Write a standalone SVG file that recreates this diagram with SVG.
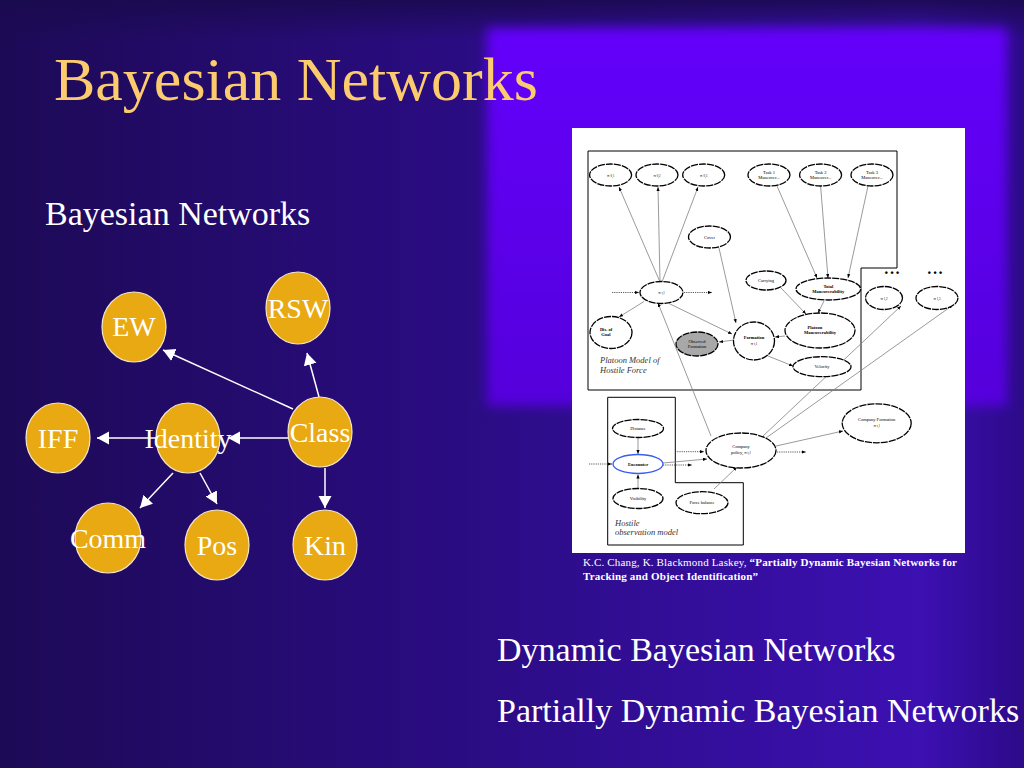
<svg xmlns="http://www.w3.org/2000/svg" width="1024" height="768" viewBox="0 0 1024 768">
<defs>
  <linearGradient id="bgH" x1="0" y1="0" x2="1" y2="0">
    <stop offset="0" stop-color="#1d0a56"/>
    <stop offset="0.45" stop-color="#2a0c82"/>
    <stop offset="0.9" stop-color="#3c10b2"/>
    <stop offset="1" stop-color="#2c0a88"/>
  </linearGradient>
  <linearGradient id="topShade" x1="0" y1="0" x2="0" y2="1">
    <stop offset="0" stop-color="#1a0a4e" stop-opacity="0.9"/>
    <stop offset="1" stop-color="#1a0a4e" stop-opacity="0"/>
  </linearGradient>
  <linearGradient id="bright" x1="0" y1="0" x2="0" y2="1">
    <stop offset="0" stop-color="#6300fb"/>
    <stop offset="1" stop-color="#5506dc"/>
  </linearGradient>
  <filter id="soft" x="-10%" y="-10%" width="120%" height="120%">
    <feGaussianBlur stdDeviation="6"/>
  </filter>
  <marker id="arrW" markerUnits="userSpaceOnUse" markerWidth="14" markerHeight="14" refX="12" refY="6.5" orient="auto">
    <path d="M0,0 L12,6.5 L0,13 Z" fill="#ffffff"/>
  </marker>
  <marker id="arrB" markerUnits="userSpaceOnUse" markerWidth="6" markerHeight="6" refX="4" refY="1.6" orient="auto">
    <path d="M0,0 L4,1.6 L0,3.2 Z" fill="#000000"/>
  </marker>
  <style>
    .title{font-family:"Liberation Serif","Times New Roman",serif;font-size:62px;fill:#fccb6e}
    .sub{font-family:"Liberation Serif","Times New Roman",serif;font-size:34px;fill:#ffffff}
    .nd{fill:#e8a912;stroke:#f4e6c8;stroke-width:1.2}
    .nl{font-family:"Liberation Serif","Times New Roman",serif;font-size:28px;fill:#ffffff;text-anchor:middle}
    .cw{stroke:#ffffff;stroke-width:1.5;fill:none;marker-end:url(#arrW)}
    .fe{fill:#ffffff;stroke:#000000;stroke-width:1.3;stroke-dasharray:7 1}
    .ft{font-family:"Liberation Serif","Times New Roman",serif;font-size:4.5px;fill:#000000;text-anchor:middle}
    .fb{stroke:#000000;stroke-width:1;fill:none}
    .fc{stroke:#808080;stroke-width:0.8;fill:none;marker-end:url(#arrB)}
    .fd{stroke:#333333;stroke-width:0.8;fill:none;stroke-dasharray:1.2 1;marker-end:url(#arrB)}
    .fi{font-family:"Liberation Serif","Times New Roman",serif;font-size:8.5px;font-style:italic;fill:#333333}
    .cap{font-family:"Liberation Serif","Times New Roman",serif;font-size:11px;fill:#ffffff}
  </style>
</defs>

<!-- background -->
<rect x="0" y="0" width="1024" height="768" fill="url(#bgH)"/>
<rect x="0" y="0" width="1024" height="40" fill="url(#topShade)"/>
<rect x="487" y="28" width="520" height="378" fill="url(#bright)" filter="url(#soft)"/>

<!-- texts -->
<text class="title" x="54" y="100">Bayesian Networks</text>
<text class="sub" x="45" y="225">Bayesian Networks</text>
<text class="sub" x="497" y="661">Dynamic Bayesian Networks</text>
<text class="sub" x="497" y="722">Partially Dynamic Bayesian Networks</text>

<!-- left graph connectors -->
<g id="connectors">
  <line class="cw" x1="293" y1="409" x2="163" y2="350"/>
  <line class="cw" x1="319" y1="397" x2="307" y2="353"/>
  <line class="cw" x1="288" y1="438" x2="228" y2="438"/>
  <line class="cw" x1="157" y1="438" x2="97" y2="438"/>
  <line class="cw" x1="173" y1="473" x2="140" y2="508"/>
  <line class="cw" x1="200" y1="473" x2="217" y2="504"/>
  <line class="cw" x1="325" y1="468" x2="325" y2="508"/>
</g>

<!-- left graph nodes -->
<g id="node-ew"><ellipse class="nd" cx="134" cy="327" rx="32" ry="35"/><text class="nl" x="134" y="336">EW</text></g>
<g id="node-rsw"><ellipse class="nd" cx="298" cy="308" rx="32" ry="36"/><text class="nl" x="298" y="318">RSW</text></g>
<g id="node-iff"><ellipse class="nd" cx="58" cy="438" rx="32" ry="35"/><text class="nl" x="58" y="448">IFF</text></g>
<g id="node-identity"><ellipse class="nd" cx="188" cy="438" rx="32" ry="35"/><text class="nl" x="188" y="448">Identity</text></g>
<g id="node-class"><ellipse class="nd" cx="320" cy="432" rx="32" ry="35"/><text class="nl" x="320" y="442">Class</text></g>
<g id="node-comm"><ellipse class="nd" cx="108" cy="538" rx="33" ry="35"/><text class="nl" x="108" y="548">Comm</text></g>
<g id="node-pos"><ellipse class="nd" cx="217" cy="545" rx="32" ry="35"/><text class="nl" x="217" y="555">Pos</text></g>
<g id="node-kin"><ellipse class="nd" cx="325" cy="545" rx="32" ry="35"/><text class="nl" x="325" y="555">Kin</text></g>

<!-- embedded figure -->
<g id="figure">
  <rect x="572" y="128" width="393" height="425" fill="#ffffff"/>
  <path class="fb" d="M588,151 H897 V268 H861 V390 H588 Z"/>
  <path class="fb" d="M607.7,397.3 H675.3 V482.7 H743.3 V545 H607.7 Z"/>
  <text class="fi" x="600" y="363">Platoon Model of</text>
  <text class="fi" x="600" y="373">Hostile Force</text>
  <text class="fi" x="615" y="526">Hostile</text>
  <text class="fi" x="615" y="535">observation model</text>
  <text x="892" y="276" font-family="Liberation Sans, Arial, sans-serif" font-size="9" font-weight="bold" text-anchor="middle" fill="#000">• • •</text>
  <text x="935" y="276" font-family="Liberation Sans, Arial, sans-serif" font-size="9" font-weight="bold" text-anchor="middle" fill="#000">• • •</text>

  <g id="fig-connectors">
    <line class="fc" x1="660" y1="282" x2="619" y2="187"/>
    <line class="fc" x1="660" y1="282" x2="658" y2="187"/>
    <line class="fc" x1="662" y1="282" x2="698" y2="187"/>
    <line class="fd" x1="612" y1="292.5" x2="639" y2="292.5"/>
    <line class="fd" x1="684" y1="292.5" x2="712" y2="292.5"/>
    <line class="fc" x1="644" y1="301.5" x2="619" y2="317"/>
    <line class="fc" x1="669" y1="303.5" x2="732" y2="334"/>
    <line class="fc" x1="719" y1="248" x2="736" y2="323"/>
    <line class="fc" x1="734" y1="340" x2="719" y2="342"/>
    <line class="fc" x1="785" y1="336" x2="775" y2="337"/>
    <line class="fc" x1="768" y1="356" x2="793" y2="366"/>
    <line class="fc" x1="781" y1="288" x2="806" y2="314"/>
    <line class="fc" x1="824" y1="301" x2="818" y2="313"/>
    <line class="fc" x1="777" y1="186" x2="817" y2="278"/>
    <line class="fc" x1="820.6" y1="186" x2="828" y2="278"/>
    <line class="fc" x1="868" y1="186" x2="848" y2="278"/>
    <line class="fc" x1="711" y1="436" x2="658" y2="303"/>
    <line class="fc" x1="762" y1="437" x2="901" y2="306"/>
    <line class="fc" x1="766" y1="438" x2="953" y2="305"/>
    <line class="fc" x1="776" y1="446" x2="843" y2="431"/>
    <line class="fd" x1="777" y1="452" x2="806" y2="452"/>
    <line class="fd" x1="675" y1="451.7" x2="704" y2="451.7"/>
    <line class="fc" x1="663" y1="463" x2="707" y2="459"/>
    <line class="fd" x1="663" y1="465" x2="692" y2="465"/>
    <line class="fd" x1="589" y1="464" x2="612" y2="464"/>
    <line class="fc" x1="638" y1="437.5" x2="638" y2="454"/>
    <line class="fc" x1="638" y1="488.5" x2="638" y2="474.5"/>
    <line class="fc" x1="714" y1="489" x2="737" y2="467"/>
  </g>

  <g id="fig-p01"><ellipse class="fe" cx="610.6" cy="175" rx="21" ry="11"/><text class="ft" x="610.6" y="176.5">π <tspan font-size="3">0,1</tspan></text></g>
  <g id="fig-p02"><ellipse class="fe" cx="657" cy="175" rx="21" ry="11"/><text class="ft" x="657" y="176.5">π <tspan font-size="3">0,2</tspan></text></g>
  <g id="fig-p03"><ellipse class="fe" cx="703.7" cy="175" rx="21" ry="11"/><text class="ft" x="703.7" y="176.5">π <tspan font-size="3">0,3</tspan></text></g>
  <g id="fig-task1"><ellipse class="fe" cx="769" cy="175" rx="21" ry="11"/><text class="ft" x="769" y="174">Task 1</text><text class="ft" x="769" y="178.5">Maneuver...</text></g>
  <g id="fig-task2"><ellipse class="fe" cx="820.6" cy="175" rx="21" ry="11"/><text class="ft" x="820.6" y="174">Task 2</text><text class="ft" x="820.6" y="178.5">Maneuver...</text></g>
  <g id="fig-task3"><ellipse class="fe" cx="872" cy="175" rx="21" ry="11"/><text class="ft" x="872" y="174">Task 3</text><text class="ft" x="872" y="178.5">Maneuver...</text></g>
  <g id="fig-cover"><ellipse class="fe" cx="709.5" cy="237" rx="21" ry="11"/><text class="ft" x="709.5" y="238.5">Cover</text></g>
  <g id="fig-carrying"><ellipse class="fe" cx="766" cy="280.5" rx="20" ry="9.5"/><text class="ft" x="766" y="282">Carrying</text></g>
  <g id="fig-totalman"><ellipse class="fe" cx="828.3" cy="289" rx="32.3" ry="11"/><text class="ft" x="828.3" y="288" font-weight="bold">Total</text><text class="ft" x="828.3" y="293" font-weight="bold">Maneuverability</text></g>
  <g id="fig-pt1"><ellipse class="fe" cx="661.5" cy="292.5" rx="21.5" ry="11"/><text class="ft" x="661.5" y="294">π <tspan font-size="3">t,1</tspan></text></g>
  <g id="fig-disgoal"><ellipse class="fe" cx="611" cy="332.5" rx="21" ry="16"/><text class="ft" x="606" y="331" text-anchor="start" font-weight="bold">Dis. of</text><text class="ft" x="606" y="336" text-anchor="start" font-weight="bold">Goal</text></g>
  <g id="fig-observed"><ellipse cx="697" cy="344" rx="21" ry="12" fill="#a8a8a8" stroke="#000" stroke-width="1.3" stroke-dasharray="7 1"/><text class="ft" x="697" y="343" font-size="4">Observed</text><text class="ft" x="697" y="347.5" font-size="4">Formation</text></g>
  <g id="fig-formation"><ellipse class="fe" cx="754" cy="341" rx="20.5" ry="19"/><text class="ft" x="754" y="339" font-weight="bold">Formation</text><text class="ft" x="754" y="345">π <tspan font-size="3">t,1</tspan></text></g>
  <g id="fig-platman"><ellipse class="fe" cx="820" cy="330.5" rx="35" ry="17.5"/><text class="ft" x="815" y="329" font-weight="bold">Platoon</text><text class="ft" x="820" y="334" font-weight="bold">Maneuverability</text></g>
  <g id="fig-velocity"><ellipse class="fe" cx="822" cy="366.7" rx="29" ry="10"/><text class="ft" x="822" y="368.2">Velocity</text></g>
  <g id="fig-pr1"><ellipse class="fe" cx="884" cy="298" rx="18.5" ry="11.5"/><text class="ft" x="884" y="299.5">π <tspan font-size="3">1,2</tspan></text></g>
  <g id="fig-pr2"><ellipse class="fe" cx="937" cy="298" rx="21" ry="11.5"/><text class="ft" x="937" y="299.5">π <tspan font-size="3">1,3</tspan></text></g>
  <g id="fig-distance"><ellipse class="fe" cx="638" cy="428.5" rx="25.5" ry="9"/><text class="ft" x="638" y="430">Distance</text></g>
  <g id="fig-encounter"><ellipse cx="638" cy="464" rx="25" ry="9.5" fill="#ffffff" stroke="#3a5cf0" stroke-width="1.3"/><text class="ft" x="638" y="465.5" fill="#2a3ce0" font-weight="bold">Encounter</text></g>
  <g id="fig-visibility"><ellipse class="fe" cx="638" cy="498.5" rx="25" ry="10"/><text class="ft" x="638" y="500">Visibility</text></g>
  <g id="fig-forcebal"><ellipse class="fe" cx="702" cy="502.7" rx="26" ry="11"/><text class="ft" x="702" y="504.2">Force balance</text></g>
  <g id="fig-policy"><ellipse class="fe" cx="741" cy="450.5" rx="35" ry="17.5"/><text class="ft" x="741" y="448" font-size="5">Company</text><text class="ft" x="741" y="454" font-size="5">policy, π <tspan font-size="3.3">t,1</tspan></text></g>
  <g id="fig-compform"><ellipse class="fe" cx="876.7" cy="423.3" rx="34.5" ry="19.5"/><text class="ft" x="876.7" y="421" font-size="4">Company Formation</text><text class="ft" x="876.7" y="427">π <tspan font-size="3">t,1</tspan></text></g>
</g>

<!-- caption -->
<text class="cap" x="583" y="566" textLength="374" lengthAdjust="spacing">K.C. Chang, K. Blackmond Laskey, <tspan font-weight="bold">“Partially Dynamic Bayesian Networks for</tspan></text>
<text class="cap" x="583" y="580" font-weight="bold" textLength="175" lengthAdjust="spacing">Tracking and Object Identification”</text>
</svg>
